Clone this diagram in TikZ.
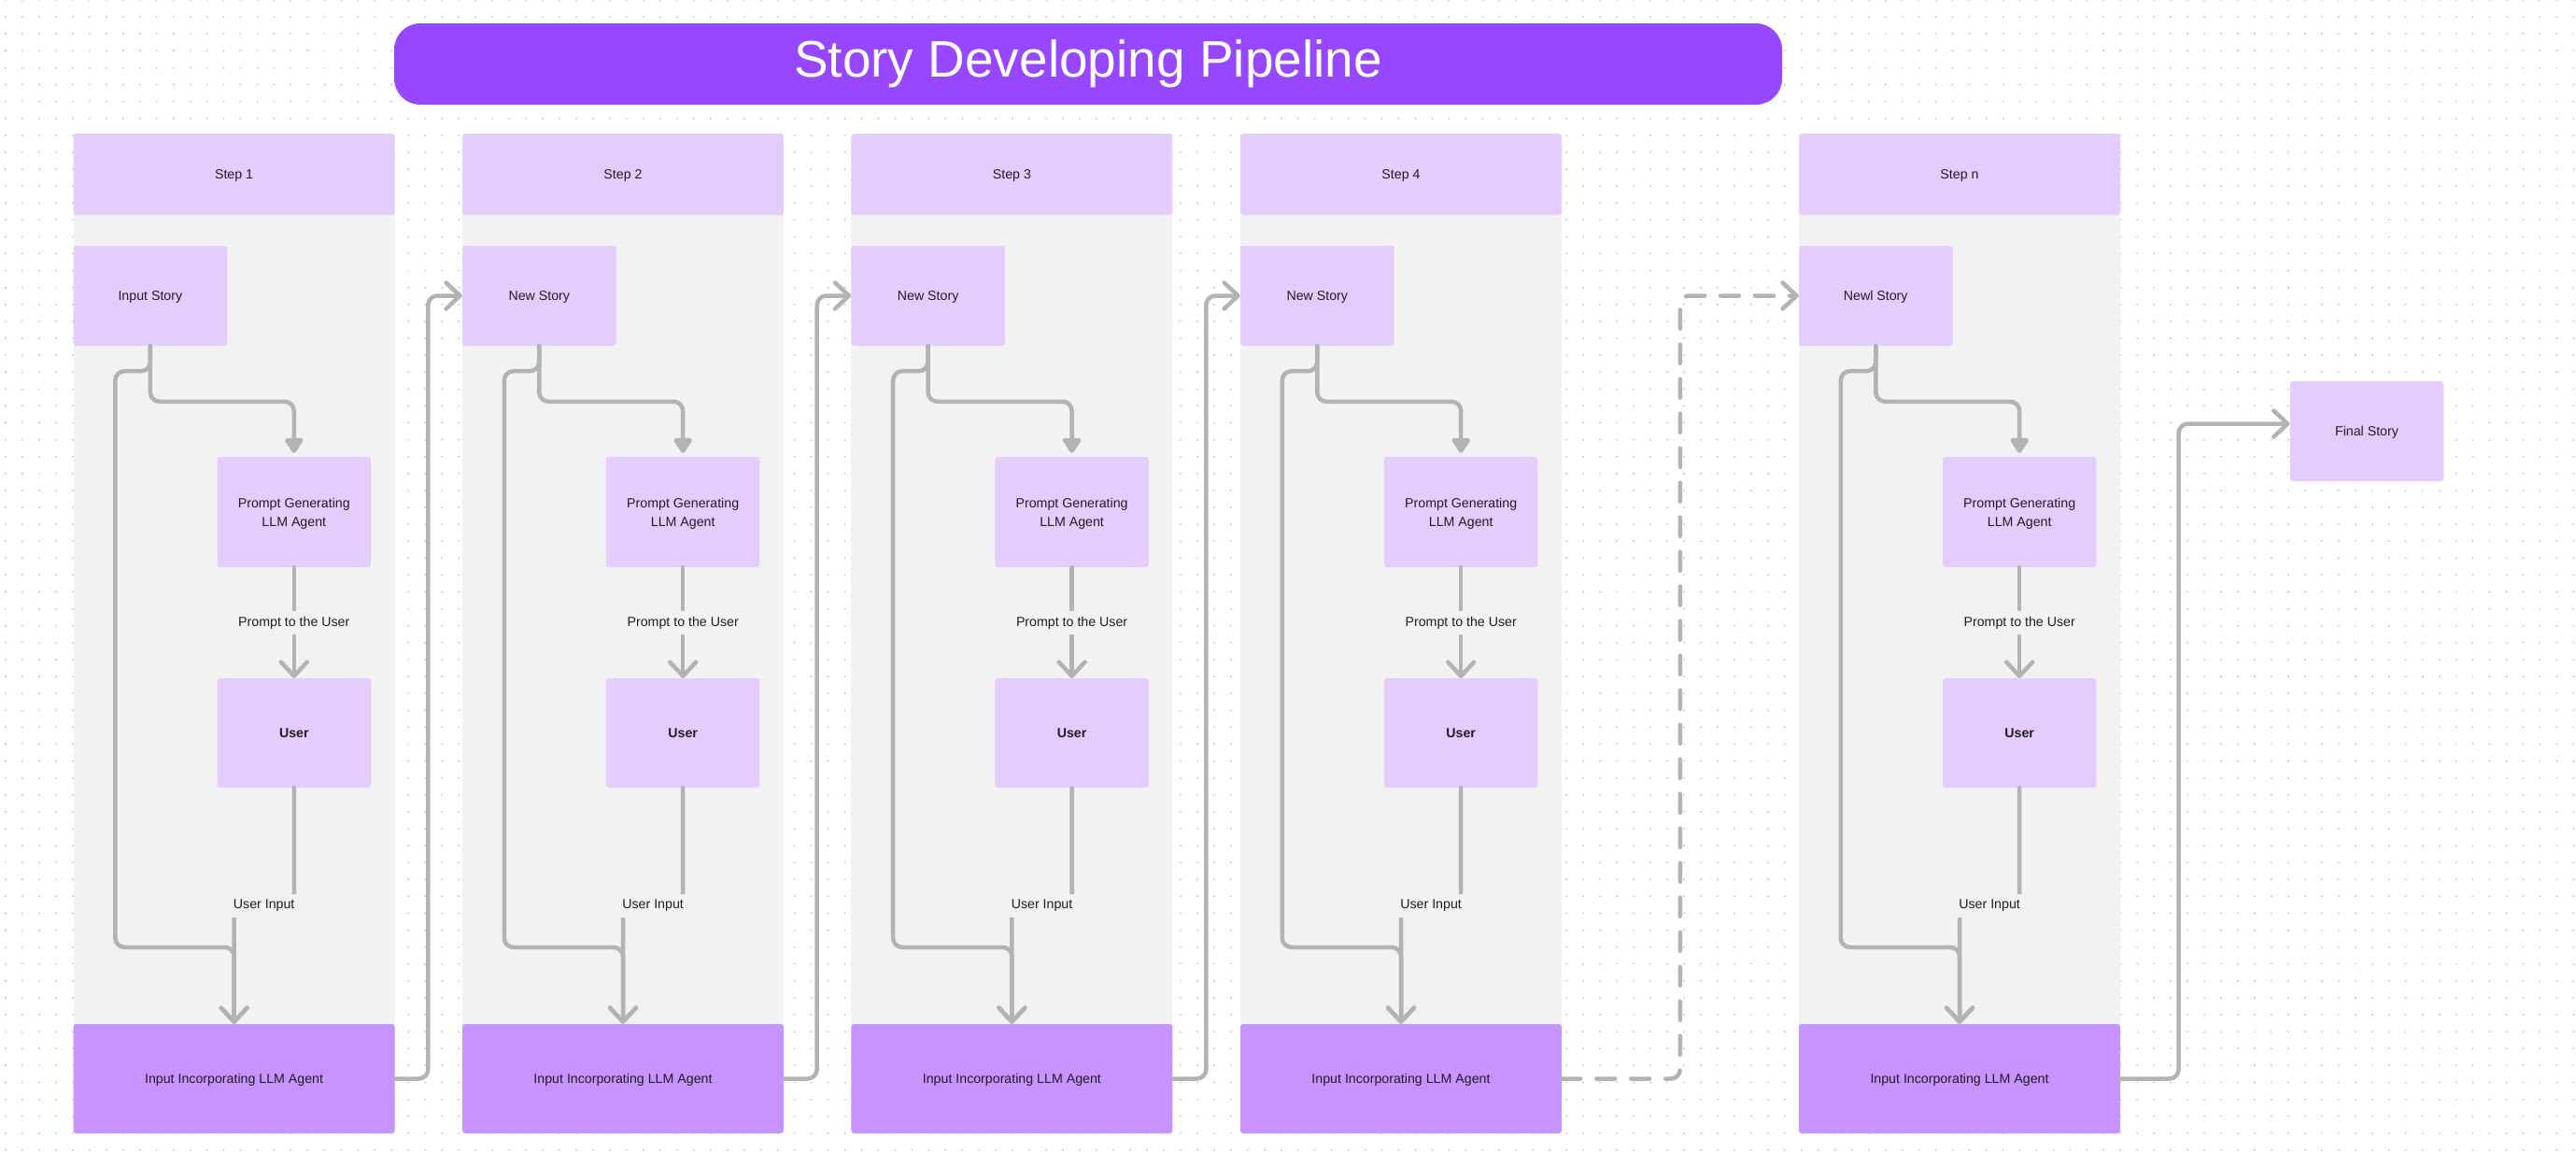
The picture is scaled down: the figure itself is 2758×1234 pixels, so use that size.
\documentclass[tikz,border=0pt]{standalone}
\usepackage{fontspec}
\setmainfont{Liberation Sans}
\usetikzlibrary{arrows.meta,calc}
\definecolor{lav}{HTML}{E4CCFF}
\definecolor{vio}{HTML}{C793FF}
\definecolor{ttl}{HTML}{9747FF}
\definecolor{colbg}{HTML}{F2F2F2}
\definecolor{lnk}{HTML}{B3B3B3}
\definecolor{txt}{HTML}{1E1E1E}
\definecolor{dotc}{HTML}{CACACA}
\newcommand\bfnt{\fontsize{14.2}{20}\selectfont}
\begin{document}
\begin{tikzpicture}[x=1pt,y=-1pt,
  boxbase/.style={rounded corners=3pt, inner sep=0pt, align=center, font=\bfnt, text=txt, text depth=0pt},
  hdrbox/.style={boxbase, fill=lav, minimum width=344pt, minimum height=87pt},
  storybox/.style={boxbase, fill=lav, minimum width=164.5pt, minimum height=107pt},
  agentbox/.style={boxbase, fill=lav, minimum width=164.5pt, minimum height=118pt},
  incbox/.style={boxbase, fill=vio, minimum width=344pt, minimum height=117pt},
  titlebox/.style={rounded corners=28pt, fill=ttl, text=white, minimum width=1486pt, minimum height=87pt, inner sep=0pt, font=\fontsize{55}{60}\selectfont},
  conn/.style={draw=lnk, line width=4.5pt, line cap=round, line join=round, rounded corners=10pt},
  chev/.style={-{Straight Barb[length=15pt,width=28pt,round]}},
  tri/.style={-{Triangle[length=18pt,width=22pt,round]}, shorten >=4pt},
  dashedconn/.style={dash pattern=on 20pt off 17pt},
  lbl/.style={fill=colbg, font=\bfnt, text=txt, inner xsep=5pt, inner ysep=6pt}
]
\useasboundingbox (0,0) rectangle (2758,1234);
\fill[white] (0,0) rectangle (2758,1234);
\foreach \j in {0,...,68}
  \draw[dotc, line width=2.2pt, line cap=round, dash pattern=on 0pt off 17.97pt] (6,\j*18.1) -- (2758,\j*18.1);

\node[titlebox] (title) at (1165,68.5) {Story Developing Pipeline};

\foreach \i/\X/\lab/\st in {1/78.6/1/Input Story, 2/495/2/New Story, 3/911.4/3/New Story, 4/1328/4/New Story, 5/1926/n/Newl Story}{
  \fill[colbg] (\X,150) rectangle ++(344,1060);
  \node[hdrbox] (h\i) at (\X+172,186.5) {Step \lab};
  \node[storybox] (s\i) at (\X+82.25,316.5) {\st};
  \node[agentbox] (p\i) at (\X+236.2,548) {Prompt Generating\\LLM Agent};
  \node[agentbox, minimum height=117pt] (u\i) at (\X+236.2,784.5) {\textbf{User}};
  \node[incbox] (c\i) at (\X+172,1154.5) {Input Incorporating LLM Agent};
  \coordinate (ui\i) at ($(u\i.south)!0.5!(c\i.north)$);
  \draw[conn, tri] (s\i.south) |- ($(p\i.north)+(0,-59)$) -- (p\i.north);
  \draw[conn, chev] (s\i.south) |- ++(-37.5,27) |- ($(c\i.north)+(0,-82)$) -- (c\i.north);
  \draw[conn, chev] (p\i.south) -- (u\i.north) node[midway, lbl] {Prompt to the User};
  \draw[conn, chev] (u\i.south) |- (ui\i) -| (c\i.north);
  \node[lbl] (uil\i) at (ui\i) {User Input};
}

\node[storybox] (fin) at (2534,461.5) {Final Story};

\draw[conn, chev] (c1.east) -| ($(s2.west)+(-36.5,0)$) -- (s2.west);
\draw[conn, chev] (c2.east) -| ($(s3.west)+(-36.5,0)$) -- (s3.west);
\draw[conn, chev] (c3.east) -| ($(s4.west)+(-36.5,0)$) -- (s4.west);
\draw[conn, chev, dashedconn] (c4.east) -| ($(s5.west)+(-127,0)$) -- (s5.west);
\draw[conn, chev] (c5.east) -| ($(fin.west)+(-119,-8)$) -- ($(fin.west)+(0,-8)$);
\end{tikzpicture}
\end{document}
